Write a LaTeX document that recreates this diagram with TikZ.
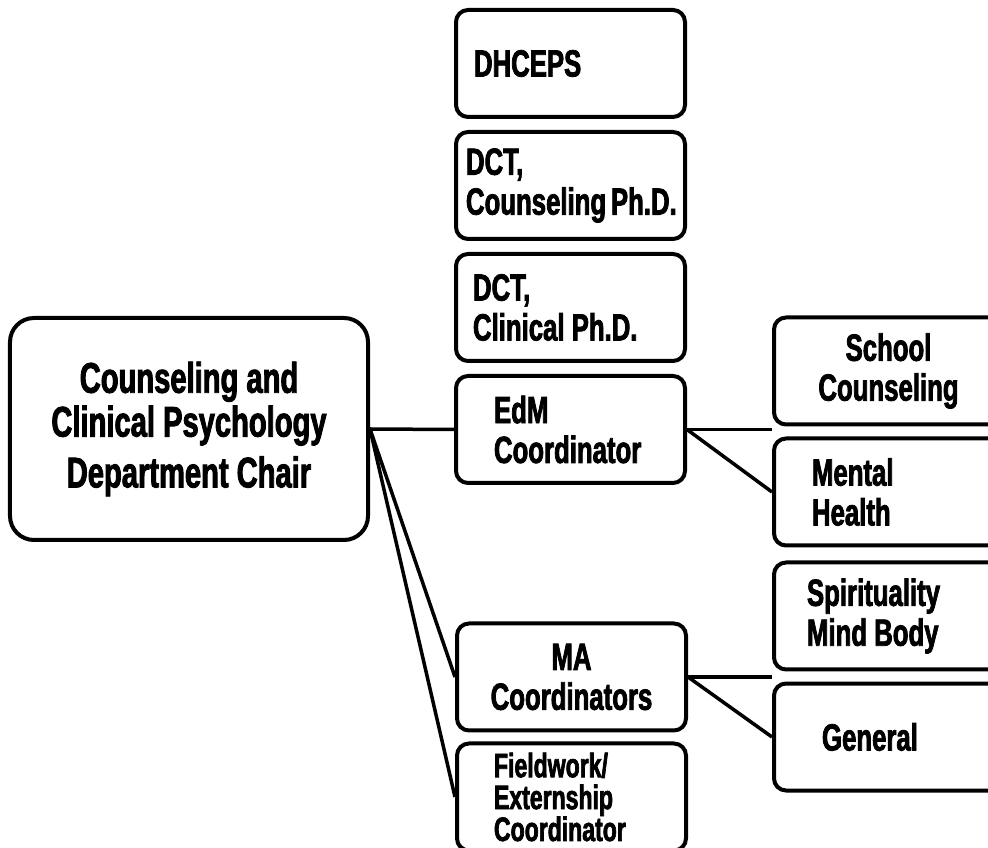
\documentclass[tikz,border=0pt]{standalone}
\usepackage{fontspec}
\usepackage{tikz}
\usetikzlibrary{positioning}
\newfontfamily\boxfont[FakeStretch=0.68,FakeBold=2]{Liberation Sans}
\tikzset{
  box/.style={
    draw, line width=4bp, rounded corners=12bp,
    minimum width=229bp, minimum height=107bp, inner sep=2bp,
    align=flush left, font=\boxfont\bfseries\fontsize{38pt}{40pt}\selectfont
  },
  chair/.style={box, rounded corners=24bp, minimum width=358bp,
    minimum height=222bp, align=center,
    font=\boxfont\bfseries\fontsize{43pt}{44pt}\selectfont},
  link/.style={line width=3.5bp},
}
\begin{document}
\begin{tikzpicture}[x=1bp, y=1bp, node distance=11bp]
  \useasboundingbox (0,0) rectangle (988,848);

  \node[chair] (Chair) at (189,419) {Counseling and\\Clinical Psychology\\[7pt]Department Chair};

  % left column
  \node[box, text width=193bp] (DHCEPS) at (570.5,784.5) {DHCEPS};
  \node[box, text width=209bp, below=of DHCEPS] (DCTc) {DCT,\\Counseling~Ph.D.};
  \node[box, text width=195bp, below=of DCTc] (DCTl) {DCT,\\Clinical Ph.D.};
  \node[box, text width=153bp, below=of DCTl] (EdM) {EdM\\Coordinator};
  \node[box, align=center] (MA) at (571.5,171) {MA\\Coordinators};
  \node[box, text width=155bp, below=9bp of MA,
    font=\boxfont\bfseries\fontsize{34pt}{32pt}\selectfont] (Field) {Fieldwork/\\Externship\\Coordinator};

  % right column
  \node[box, align=center] (SC) at (888.5,477) {School\\Counseling};
  \node[box, text width=153bp, below=10bp of SC] (MH) {Mental\\Health};
  \node[box, text width=163bp, below=13bp of MH] (SMB) {Spirituality\\Mind Body};
  \node[box, text width=133bp, below=10bp of SMB] (Gen) {General};

  \draw[link] (Chair.east) -- (EdM.west);
  \draw[link] (Chair.east) -- (MA.west);
  \draw[link] (Chair.east) -- (Field.west);

  \coordinate (SCend) at (EdM.east -| SC.west);
  \draw[link] (EdM.east) -- (SCend);
  \draw[link] (EdM.east) -- (MH.west);

  \coordinate (SMBend) at (MA.east -| SMB.west);
  \draw[link] (MA.east) -- (SMBend);
  \draw[link] (MA.east) -- (Gen.west);
\end{tikzpicture}
\end{document}
